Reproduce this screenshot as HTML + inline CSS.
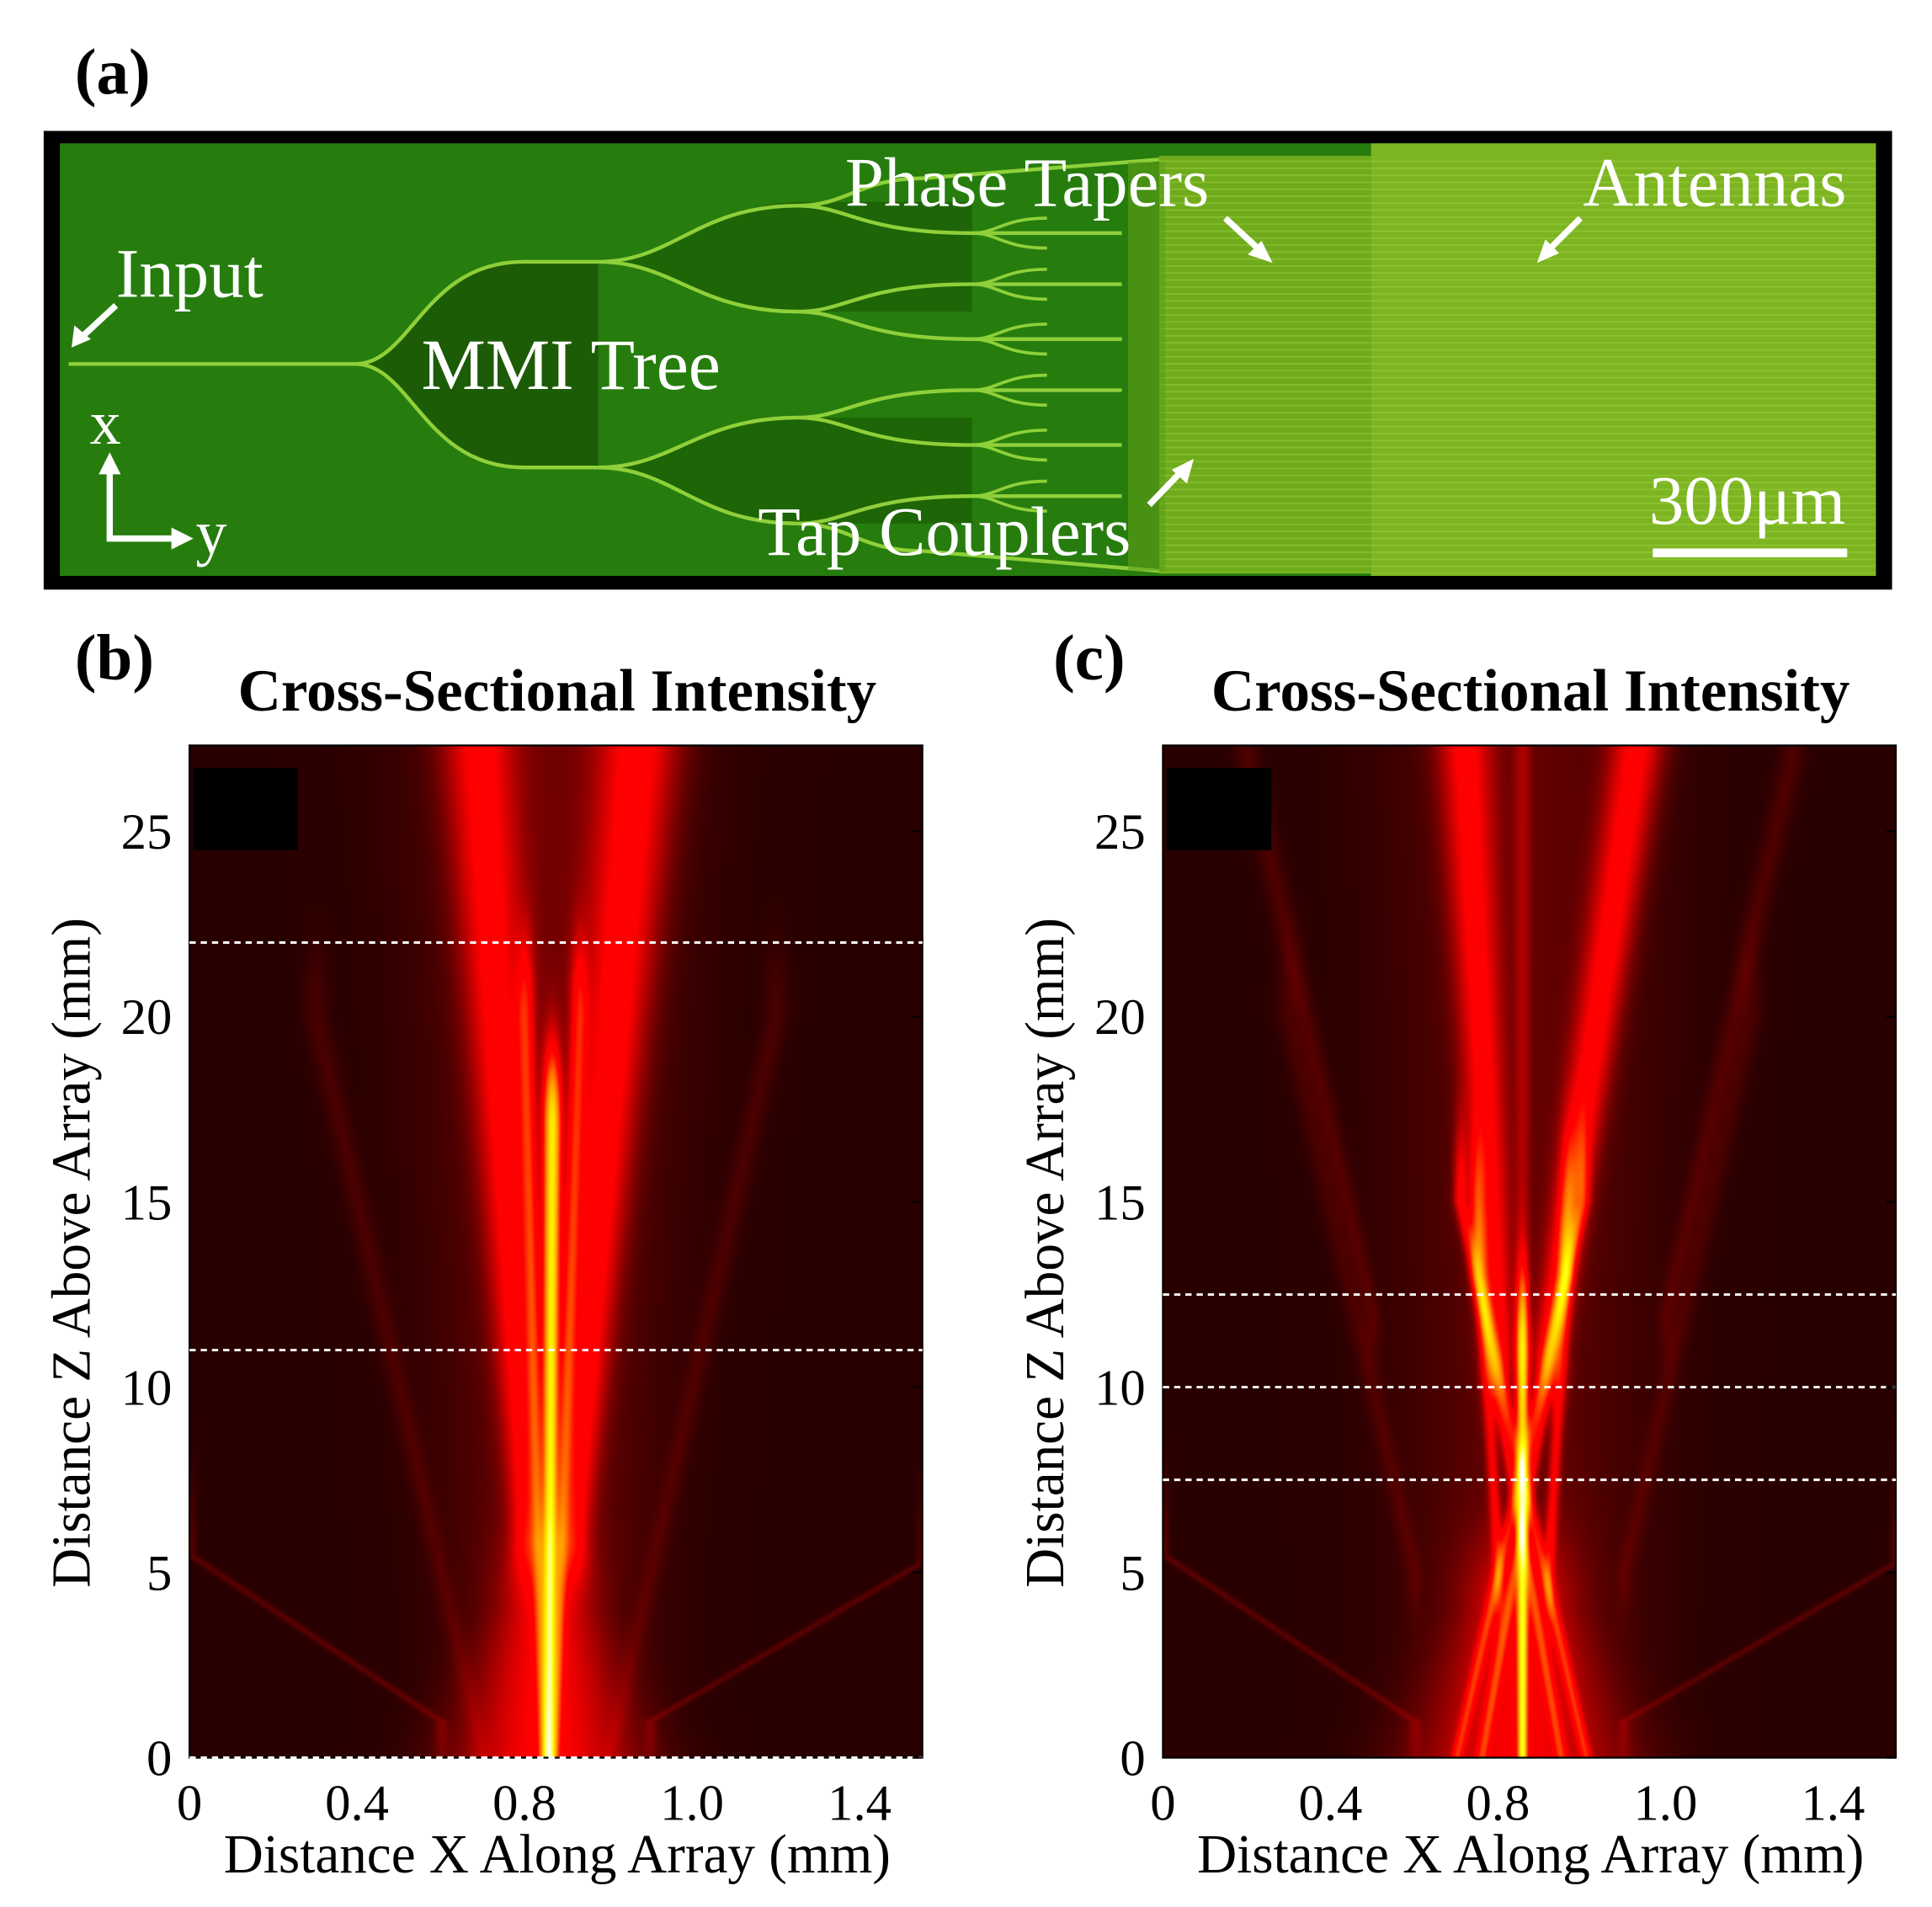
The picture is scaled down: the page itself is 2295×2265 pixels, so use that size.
<!DOCTYPE html>
<html><head><meta charset="utf-8">
<style>
html,body{margin:0;padding:0;background:#fff;}
body{width:2295px;height:2265px;position:relative;overflow:hidden;font-family:"Liberation Serif",serif;}
canvas{position:absolute;}
svg{position:absolute;left:0;top:0;}
</style></head>
<body>
<canvas id="hb" style="left:225px;top:885px" width="871" height="1203"></canvas>
<canvas id="hc" style="left:1381px;top:885px" width="872" height="1203"></canvas>
<svg id="ov" width="2295" height="2265" viewBox="0 0 1550 1529.8" font-family="Liberation Serif, serif">
  <text x="60" y="75" font-size="52" font-weight="bold">(a)</text>
  <g>
    <rect x="35" y="105" width="1483" height="368" fill="#000"/>
    <rect x="48" y="115" width="1457" height="347" fill="#267d0e"/>
    <path d="M285,292 C330,292 340,212 420,210 L480,210 L480,375 L420,375 C340,373 330,292 285,292Z" fill="#1d5c06"/>
    <path d="M480,210 C540,210 560,165 640,162 L780,162 L780,250 L640,250 C560,248 540,210 480,210Z" fill="#1d6506"/>
    <path d="M480,375 C540,375 560,335 640,335 L780,335 L780,420 L640,420 C560,418 540,375 480,375Z" fill="#1d6506"/>
    <rect x="930" y="125" width="170" height="335" fill="#6fab1c"/>
    <rect x="1100" y="115" width="405" height="347" fill="#7db522"/>
    <rect x="930" y="125" width="575" height="335" fill="url(#stripes)"/>
    <defs>
      <pattern id="stripes" width="10" height="5.6" patternUnits="userSpaceOnUse">
        <rect width="10" height="1.2" fill="#9bcc3a" opacity="0.55"/>
      </pattern>
    </defs>
    <g fill="none" stroke="#8fd03a" stroke-width="3">
      <path d="M55,292 L285,292"/>
      <path d="M285,292 C330,292 340,210 420,210 L480,210 M285,292 C330,292 340,375 420,375 L480,375"/>
      <path d="M480,210 C540,210 560,165 640,165 M480,210 C540,210 560,250 640,250"/>
      <path d="M480,375 C540,375 560,335 640,335 M480,375 C540,375 560,420 640,420"/>
      <path d="M640,165 C680,165 690,143 740,143 L930,128 M640,165 C680,165 690,187 780,187 L900,187"/>
      <path d="M640,250 C680,250 690,228 780,228 L900,228 M640,250 C680,250 690,272 780,272 L900,272"/>
      <path d="M640,335 C680,335 690,313 780,313 L900,313 M640,335 C680,335 690,357 780,357 L900,357"/>
      <path d="M640,420 C680,420 690,398 780,398 L900,398 M640,420 C680,420 690,442 740,442 L930,458"/>
      <path d="M780,187 C800,187 805,175 840,175 M780,187 C800,187 805,199 840,199 M780,228 C800,228 805,216 840,216 M780,228 C800,228 805,240 840,240 M780,272 C800,272 805,260 840,260 M780,272 C800,272 805,284 840,284 M780,313 C800,313 805,301 840,301 M780,313 C800,313 805,325 840,325 M780,357 C800,357 805,345 840,345 M780,357 C800,357 805,369 840,369 M780,398 C800,398 805,386 840,386 M780,398 C800,398 805,410 840,410" stroke-width="2.5"/>
    </g>
    <rect x="905" y="130" width="30" height="328" fill="#5f9f18" opacity="0.6"/>
    <g fill="#fff" font-size="56">
      <text x="678" y="165">Phase Tapers</text>
      <text x="1270" y="165">Antennas</text>
      <text x="93" y="238">Input</text>
      <text x="338" y="312" font-size="58">MMI Tree</text>
      <text x="608" y="445">Tap Couplers</text>
      <text x="1323" y="420">300μm</text>
      <text x="72" y="356" font-size="50">x</text>
      <text x="157" y="444" font-size="50">y</text>
    </g>
    <rect x="1326" y="440" width="156" height="7" fill="#fff"/>
    <g stroke="#fff" stroke-width="5" fill="#fff">
      <path d="M88,378 L88,432 L140,432" fill="none"/>
      <path d="M80,380 L88,364 L96,380Z M138,424 L154,432 L138,440Z" stroke-width="1"/>
      <path d="M93,245 L66,270"/><path d="M58,278 L60,262 L72,272Z" stroke-width="1"/>
      <path d="M983,175 L1010,200"/><path d="M1020,210 L1002,204 L1012,194Z" stroke-width="1"/>
      <path d="M1268,175 L1243,200"/><path d="M1234,210 L1240,193 L1250,203Z" stroke-width="1"/>
      <path d="M922,405 L948,378"/><path d="M957,369 L952,387 L941,377Z" stroke-width="1"/>
    </g>
  </g>
  <text x="60" y="545" font-size="52" font-weight="bold">(b)</text>
  <text x="845" y="545" font-size="52" font-weight="bold">(c)</text>
  <g id="axb"></g>
  <g id="axc"></g>
</svg>
<script>
// axis data
const yTicks = [0, 5, 10, 15, 20, 25];
const xTickPos = [0, 0.4, 0.8, 1.2, 1.6];
const xTickLabels = ["0", "0.4", "0.8", "1.0", "1.4"];
const xMax = 1.75, zMax = 27.32;
const dashB = [22, 11, 0];
const dashC = [12.5, 10, 7.5];
// beams panel b
const bX0 = [0.857, 0.845, 0.870, 0.810, 0.910, 0.00, 1.75, 0.85, 0.70, 1.00, 0.86];
const bZ0 = [0,     0,     0,     6,     6,     5.5,  5.3,  0,    0,    0,    0];
const bX1 = [0.865, 0.800, 0.930, 0.690, 1.070, 0.60, 1.10, 0.85, 0.30, 1.40, 0.86];
const bZ1 = [17,    20,    20,    27.3,  27.3,  1.0,  1.0,  4,    20,   20,   27.3];
const bW0 = [0.012, 0.012, 0.012, 0.04,  0.04,  0.015,0.015,0.20, 0.02, 0.02, 0.20];
const bW1 = [0.020, 0.020, 0.020, 0.08,  0.09,  0.015,0.015,0.10, 0.03, 0.03, 0.30];
const bAmp = [1.3,  0.45,  0.45,  0.42,  0.45,  0.08, 0.08, 0.35, 0.05, 0.05, 0.12];
// beams panel c
const cX0 = [0.857, 0.70, 1.01, 0.76, 0.95, 0.80, 0.92, 0.80, 0.92, 0.50, 1.20, 0.60, 1.10, 0.857, 0.00, 1.75, 0.85, 0.86];
const cZ0 = [0,     0,    0,    0,    0,    5,    5,    11,   11,   12,   12,   5,    5,    11,    5.5,  5.3,  0,    0];
const cX1 = [0.857, 1.00, 0.71, 0.96, 0.75, 0.75, 0.97, 0.72, 1.13, 0.20, 1.50, 0.30, 1.40, 0.857, 0.60, 1.10, 0.85, 0.86];
const cZ1 = [11,    15,   15,   13,   13,   15,   15,   27.3, 27.3, 27,   27,   20,   20,   27,    1.0,  1.0,  4,    27.3];
const cW0 = [0.010, 0.012,0.012,0.012,0.012,0.012,0.012,0.035,0.035,0.02, 0.02, 0.02, 0.02, 0.015, 0.015,0.015,0.22, 0.25];
const cW1 = [0.014, 0.016,0.016,0.016,0.016,0.018,0.018,0.06, 0.06, 0.03, 0.03, 0.03, 0.03, 0.02,  0.015,0.015,0.12, 0.30];
const cAmp = [1.2,  0.42, 0.42, 0.38, 0.38, 0.35, 0.35, 0.42, 0.45, 0.06, 0.06, 0.05, 0.05, 0.15,  0.08, 0.08, 0.35, 0.1];

function drawHeat(id, X0, Z0, X1, Z1, W0, W1, A) {
  const cv = document.getElementById(id), ctx = cv.getContext('2d');
  const W = cv.width, H = cv.height, img = ctx.createImageData(W, H);
  for (let py = 0; py < H; py++) {
    const z = (1 - py / H) * zMax;
    const cols = [];
    for (let k = 0; k < X0.length; k++) {
      const lo = Math.min(Z0[k], Z1[k]), hi = Math.max(Z0[k], Z1[k]);
      let t = (z - Z0[k]) / (Z1[k] - Z0[k]);
      let env = 1;
      if (z < lo) env = Math.exp(-Math.pow((lo - z) / 1.2, 2));
      if (z > hi) env = Math.exp(-Math.pow((z - hi) / 2.0, 2));
      t = Math.max(0, Math.min(1, t));
      cols.push([X0[k] + (X1[k] - X0[k]) * t, W0[k] + (W1[k] - W0[k]) * t, A[k] * env]);
    }
    for (let px = 0; px < W; px++) {
      const x = px / W * xMax;
      let s = 0;
      for (const c of cols) { const d = (x - c[0]) / c[1]; if (d * d < 20) s += c[2] * Math.exp(-d * d); }
      const v = Math.min(1, 0.08 + 1 - Math.exp(-1.2 * s));
      const i = (py * W + px) * 4;
      img.data[i] = 255 * Math.min(1, v / 0.5);
      img.data[i + 1] = 255 * Math.max(0, Math.min(1, (v - 0.58) / 0.35));
      img.data[i + 2] = 255 * Math.max(0, Math.min(1, (v - 0.93) / 0.07));
      img.data[i + 3] = 255;
    }
  }
  ctx.putImageData(img, 0, 0);
}
drawHeat('hb', bX0, bZ0, bX1, bZ1, bW0, bW1, bAmp);
drawHeat('hc', cX0, cZ0, cX1, cZ1, cW0, cW1, cAmp);

const NS = 'http://www.w3.org/2000/svg';
function mk(tag, attrs, parent) { const e = document.createElementNS(NS, tag); for (const k in attrs) e.setAttribute(k, attrs[k]); parent.appendChild(e); return e; }
function axes(gid, left, dashes, tag) {
  const g = document.getElementById(gid);
  const right = left + 588, top = 598, bottom = 1410;
  const sx = v => left + v / xMax * 588, sy = v => bottom - v / zMax * (bottom - top);
  const title = mk('text', {x: left + 295, y: 570, 'font-size': 48, 'font-weight': 'bold', 'text-anchor': 'middle'}, g);
  
  
  title.textContent = 'Cross-Sectional Intensity';
  const blk = mk('rect', {x: left + 3, y: 616, width: 84, height: 66, fill: '#000'}, g);
  
  
  const frame = mk('rect', {x: left, y: top, width: 588, height: bottom - top, fill: 'none', stroke: '#000', 'stroke-width': 1.5}, g);
  
  
  for (const d of dashes) {
    const l = mk('line', {x1: left, x2: right, y1: sy(d), y2: sy(d), stroke: '#fff', 'stroke-width': 2, 'stroke-dasharray': '5,4'}, g);
    
    
  }
  yTicks.forEach(v => {
    const t = mk('text', {x: left - 14, y: sy(v) + 14, 'font-size': 41, 'text-anchor': 'end'}, g);
    
    
    t.textContent = v;
    mk('line', {x1: right - 8, x2: right, y1: sy(v), y2: sy(v), stroke: '#000', 'stroke-width': 1.5}, g);
  });
  xTickPos.forEach((v, i) => {
    if (sx(v) > right + 1) return;
    const t = mk('text', {x: sx(v), y: 1460, 'font-size': 41, 'text-anchor': 'middle'}, g);
    
    
    t.textContent = xTickLabels[i];
  });
  const xt = mk('text', {x: left + 295, y: 1502, 'font-size': 44, 'text-anchor': 'middle'}, g);
  
  
  xt.textContent = 'Distance X Along Array (mm)';
  const yt = mk('text', {x: 0, y: 0, 'font-size': 44, 'text-anchor': 'middle', transform: `translate(${left - 80},1005) rotate(-90)`}, g);
  
  
  yt.textContent = 'Distance Z Above Array (mm)';
}
axes('axb', 152, dashB, 'b');
axes('axc', 933, dashC, 'c');
</script>
</body></html>
